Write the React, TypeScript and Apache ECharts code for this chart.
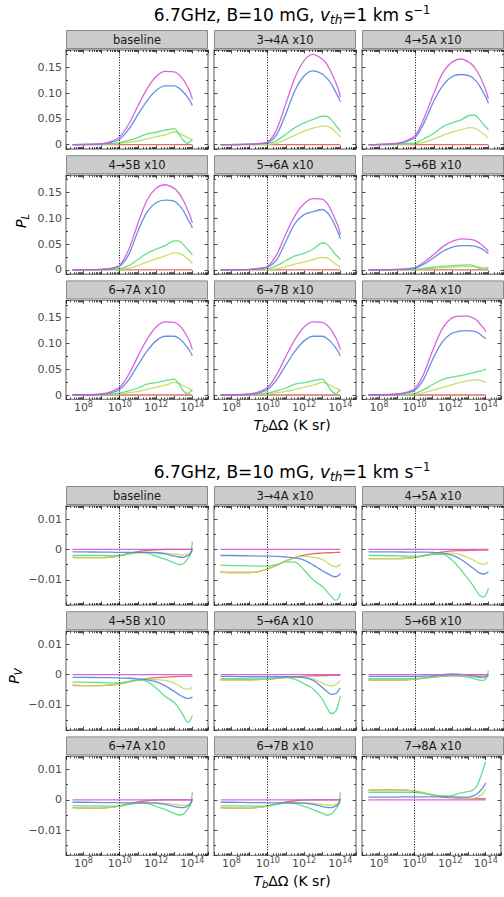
import React, { useEffect, useRef } from 'react';
import * as echarts from 'echarts';

// x grid: log10(T_b ΔΩ / K sr)
const LOG_T = [7.4, 8, 9, 9.5, 10, 10.5, 11, 11.5, 12, 12.5, 13, 13.25, 13.5, 13.75, 13.9, 14];

const PANEL_LABELS = ['baseline', '3→4A x10', '4→5A x10', '4→5B x10', '5→6A x10', '5→6B x10', '6→7A x10', '6→7B x10', '7→8A x10'];
const SERIES_NAMES = ['s1', 's2', 's3', 's4', 's5'];
const COLORS = ['#db5f57', '#c3db57', '#57db80', '#5784db', '#d357db'];
const X_LABEL_EXPONENTS = [8, 10, 12, 14];
const PL_TICKS = [0, 0.05, 0.1, 0.15];
const PV_TICKS = [-0.01, 0, 0.01];
const REF_LINE_EXP = 10;

const ZERO = [0, 0, 0, 0, 0, 0, 0, 0, 0, 0, 0, 0, 0, 0, 0, 0];

// ---------- P_L (each: red, yellow, green, blue, magenta) ----------
const PL_BASELINE = [
  ZERO,
  [0, 0.0001, 0.0005, 0.001, 0.002, 0.0045, 0.007, 0.011, 0.015, 0.019, 0.0245, 0.0225, 0.018, 0.0135, 0.011, 0.009],
  [0, 0.0001, 0.001, 0.002, 0.004, 0.008, 0.0136, 0.021, 0.024, 0.028, 0.031, 0.0215, 0.0084, 0.0025, 0.0067, 0.0095],
  [0, 0.0002, 0.0015, 0.004, 0.011, 0.03, 0.058, 0.085, 0.105, 0.114, 0.114, 0.11, 0.102, 0.091, 0.083, 0.076],
  [0, 0.0003, 0.002, 0.006, 0.015, 0.04, 0.075, 0.108, 0.132, 0.142, 0.141, 0.136, 0.126, 0.111, 0.099, 0.088],
];
const PL_3_4A = [
  ZERO,
  [0, 0, 0.0002, 0.0003, 0.0006, 0.003, 0.01, 0.018, 0.026, 0.032, 0.036, 0.036, 0.032, 0.024, 0.019, 0.014],
  [0, 0, 0.0005, 0.001, 0.002, 0.008, 0.02, 0.033, 0.042, 0.049, 0.055, 0.055, 0.048, 0.037, 0.031, 0.025],
  [0, 0.0001, 0.0008, 0.002, 0.004, 0.02, 0.06, 0.105, 0.133, 0.143, 0.137, 0.129, 0.118, 0.101, 0.091, 0.083],
  [0, 0.0002, 0.001, 0.002, 0.005, 0.03, 0.08, 0.13, 0.163, 0.175, 0.166, 0.156, 0.14, 0.12, 0.106, 0.092],
];
const PL_4_5A = [
  ZERO,
  [0, 0, 0.0003, 0.001, 0.002, 0.005, 0.011, 0.018, 0.024, 0.029, 0.033, 0.032, 0.027, 0.02, 0.016, 0.012],
  [0, 0.0001, 0.001, 0.002, 0.004, 0.012, 0.022, 0.035, 0.042, 0.048, 0.057, 0.057, 0.049, 0.038, 0.033, 0.028],
  [0, 0.0004, 0.002, 0.006, 0.015, 0.045, 0.085, 0.115, 0.132, 0.136, 0.133, 0.126, 0.115, 0.099, 0.089, 0.08],
  [0, 0.0005, 0.003, 0.008, 0.019, 0.055, 0.1, 0.14, 0.16, 0.166, 0.158, 0.149, 0.135, 0.115, 0.101, 0.089],
];
const PL_4_5B = [
  ZERO,
  [0, 0, 0.0002, 0.0003, 0.0006, 0.003, 0.008, 0.015, 0.021, 0.027, 0.033, 0.032, 0.028, 0.021, 0.016, 0.012],
  [0, 0, 0.0005, 0.001, 0.002, 0.008, 0.02, 0.032, 0.04, 0.047, 0.056, 0.056, 0.049, 0.039, 0.033, 0.029],
  [0, 0.0002, 0.001, 0.002, 0.007, 0.03, 0.075, 0.112, 0.13, 0.135, 0.133, 0.126, 0.115, 0.098, 0.089, 0.081],
  [0, 0.0002, 0.001, 0.003, 0.009, 0.04, 0.09, 0.135, 0.158, 0.165, 0.158, 0.149, 0.135, 0.115, 0.102, 0.091],
];
const PL_5_6A = [
  ZERO,
  [0, 0, 0.0002, 0.0003, 0.0005, 0.002, 0.006, 0.011, 0.015, 0.02, 0.024, 0.023, 0.018, 0.011, 0.008, 0.005],
  [0, 0, 0.0005, 0.001, 0.002, 0.008, 0.018, 0.027, 0.032, 0.04, 0.052, 0.05, 0.04, 0.029, 0.024, 0.02],
  [0, 0.0001, 0.001, 0.002, 0.005, 0.02, 0.055, 0.09, 0.107, 0.113, 0.117, 0.112, 0.1, 0.082, 0.07, 0.06],
  [0, 0.0002, 0.001, 0.003, 0.007, 0.03, 0.07, 0.105, 0.128, 0.138, 0.137, 0.13, 0.115, 0.095, 0.082, 0.068],
];
const PL_5_6B = [
  ZERO,
  [0, 0, 0.0001, 0.0002, 0.0005, 0.0015, 0.003, 0.004, 0.005, 0.006, 0.006, 0.0058, 0.005, 0.004, 0.0035, 0.003],
  [0, 0, 0.0002, 0.0005, 0.001, 0.003, 0.005, 0.007, 0.008, 0.009, 0.0095, 0.007, 0.003, 0.001, 0.003, 0.005],
  [0, 0.0001, 0.0008, 0.002, 0.004, 0.012, 0.024, 0.036, 0.044, 0.047, 0.047, 0.046, 0.043, 0.038, 0.034, 0.031],
  [0, 0.0002, 0.001, 0.002, 0.005, 0.016, 0.03, 0.045, 0.055, 0.06, 0.059, 0.057, 0.052, 0.045, 0.04, 0.036],
];
const PL_6_7A = PL_BASELINE;
const PL_6_7B = PL_BASELINE;
const PL_7_8A = [
  ZERO,
  [0, 0, 0.0003, 0.0005, 0.001, 0.004, 0.009, 0.014, 0.019, 0.024, 0.028, 0.029, 0.03, 0.028, 0.026, 0.024],
  [0, 0.0001, 0.001, 0.0015, 0.003, 0.01, 0.02, 0.029, 0.034, 0.037, 0.041, 0.043, 0.045, 0.047, 0.049, 0.051],
  [0, 0.0002, 0.0015, 0.004, 0.009, 0.03, 0.068, 0.1, 0.118, 0.124, 0.125, 0.124, 0.122, 0.116, 0.112, 0.109],
  [0, 0.0003, 0.002, 0.005, 0.012, 0.04, 0.085, 0.125, 0.147, 0.153, 0.153, 0.15, 0.145, 0.135, 0.129, 0.122],
];

// ---------- P_V ----------
const PV_BASELINE = [
  [-0.0026, -0.0027, -0.0027, -0.0025, -0.002, -0.0013, -0.0007, -0.0003, -0.0001, 0, 0, 0, 0, 0, 0, 0],
  [-0.0026, -0.0027, -0.0027, -0.0025, -0.0021, -0.0015, -0.0011, -0.001, -0.001, -0.0012, -0.0015, -0.0017, -0.0018, -0.0015, -0.001, -0.0005],
  [-0.002, -0.002, -0.002, -0.0021, -0.002, -0.0015, -0.001, -0.0012, -0.0022, -0.0032, -0.0044, -0.005, -0.0047, -0.003, -0.0015, 0.0025],
  [-0.0008, -0.0008, -0.0009, -0.0009, -0.001, -0.001, -0.001, -0.001, -0.0011, -0.0015, -0.0022, -0.0025, -0.0026, -0.002, -0.0014, 0.0003],
  ZERO,
];
const PV_3_4A = [
  [-0.0075, -0.0076, -0.0076, -0.0073, -0.0064, -0.0052, -0.0038, -0.0027, -0.0019, -0.0014, -0.0012, -0.0011, -0.0011, -0.001, -0.001, -0.001],
  [-0.0075, -0.0076, -0.0076, -0.0073, -0.0064, -0.0052, -0.0038, -0.0027, -0.0023, -0.0025, -0.0033, -0.0042, -0.0052, -0.0057, -0.0054, -0.0048],
  [-0.0052, -0.0053, -0.0054, -0.0055, -0.0055, -0.0049, -0.0041, -0.0042, -0.0068, -0.01, -0.0122, -0.0138, -0.0155, -0.0168, -0.016, -0.0144],
  [-0.002, -0.002, -0.0021, -0.0022, -0.0022, -0.0023, -0.0025, -0.0028, -0.0035, -0.0051, -0.007, -0.0078, -0.0086, -0.009, -0.0086, -0.0079],
  ZERO,
];
const PV_4_5A = [
  [-0.003, -0.003, -0.003, -0.0029, -0.0026, -0.002, -0.0013, -0.0008, -0.0005, -0.0004, -0.0003, -0.0003, -0.0002, -0.0002, -0.0002, -0.0002],
  [-0.003, -0.003, -0.003, -0.0029, -0.0026, -0.002, -0.0015, -0.0012, -0.0012, -0.0018, -0.003, -0.0038, -0.0046, -0.0049, -0.0046, -0.0041],
  [-0.002, -0.002, -0.0021, -0.0022, -0.0023, -0.002, -0.0016, -0.0016, -0.0035, -0.0068, -0.0106, -0.0128, -0.015, -0.0157, -0.0145, -0.0128],
  [-0.0008, -0.0008, -0.0008, -0.0009, -0.0009, -0.0009, -0.001, -0.0012, -0.0019, -0.0033, -0.0055, -0.0066, -0.0077, -0.0081, -0.0078, -0.0073],
  ZERO,
];
const PV_4_5B = [
  [-0.0035, -0.0036, -0.0036, -0.0034, -0.003, -0.0024, -0.0018, -0.0013, -0.001, -0.0008, -0.0007, -0.0006, -0.0006, -0.0005, -0.0005, -0.0005],
  [-0.0035, -0.0036, -0.0036, -0.0034, -0.003, -0.0024, -0.0018, -0.0015, -0.0016, -0.0019, -0.0028, -0.0036, -0.0045, -0.0048, -0.0046, -0.0042],
  [-0.0025, -0.0025, -0.0026, -0.0027, -0.0027, -0.0022, -0.0017, -0.0022, -0.0044, -0.0071, -0.0092, -0.011, -0.0135, -0.0157, -0.0148, -0.0135],
  [-0.0009, -0.0009, -0.001, -0.001, -0.0011, -0.0012, -0.0014, -0.0017, -0.0023, -0.0037, -0.0055, -0.0065, -0.0074, -0.0078, -0.0077, -0.0073],
  ZERO,
];
const PV_5_6A = [
  [-0.0017, -0.0017, -0.0017, -0.0016, -0.0015, -0.0012, -0.0009, -0.0007, -0.0005, -0.0004, -0.0003, -0.0003, -0.0002, -0.0002, -0.0002, -0.0002],
  [-0.0017, -0.0017, -0.0017, -0.0016, -0.0015, -0.0012, -0.001, -0.0009, -0.0009, -0.0014, -0.0028, -0.0034, -0.0037, -0.0033, -0.0026, -0.0019],
  [-0.0013, -0.0013, -0.0014, -0.0014, -0.0014, -0.0011, -0.0009, -0.0016, -0.003, -0.0047, -0.008, -0.0108, -0.0128, -0.012, -0.0095, -0.0071],
  [-0.0006, -0.0006, -0.0007, -0.0007, -0.0007, -0.0007, -0.0007, -0.0008, -0.001, -0.0019, -0.0042, -0.0055, -0.0065, -0.0062, -0.0052, -0.0044],
  ZERO,
];
const PV_5_6B = [
  [-0.0017, -0.0018, -0.0018, -0.0017, -0.0015, -0.0011, -0.0007, -0.0004, -0.0002, -0.0001, -0.0001, -0.0001, -0.0001, -0.0001, -0.0001, -0.0001],
  [-0.0017, -0.0018, -0.0018, -0.0017, -0.0015, -0.0011, -0.0008, -0.0005, -0.0004, -0.0004, -0.0006, -0.0008, -0.001, -0.0011, -0.0009, -0.0006],
  [-0.0013, -0.0013, -0.0013, -0.0013, -0.0013, -0.0011, -0.0008, -0.0005, -0.0004, -0.0006, -0.001, -0.0014, -0.0018, -0.0019, -0.001, 0.0013],
  [-0.0006, -0.0006, -0.0006, -0.0006, -0.0006, -0.0005, -0.0003, 0, 0.0002, 0.0001, -0.0003, -0.0005, -0.0007, -0.0008, -0.0006, -0.0002],
  ZERO,
];
const PV_6_7A = PV_BASELINE;
const PV_6_7B = PV_BASELINE;
const PV_7_8A = [
  [0.0032, 0.0033, 0.0033, 0.0032, 0.0029, 0.0023, 0.0016, 0.001, 0.0007, 0.0005, 0.0004, 0.0004, 0.0004, 0.0004, 0.0004, 0.0004],
  [0.0032, 0.0033, 0.0033, 0.0032, 0.0029, 0.0024, 0.0017, 0.0012, 0.0009, 0.0006, 0.0005, 0.0005, 0.0008, 0.0016, 0.0025, 0.0034],
  [0.0025, 0.0025, 0.0025, 0.0025, 0.0025, 0.0021, 0.0016, 0.0013, 0.0013, 0.0021, 0.0027, 0.0031, 0.0045, 0.0082, 0.0108, 0.0126],
  [0.0009, 0.0009, 0.0009, 0.001, 0.001, 0.001, 0.001, 0.001, 0.001, 0.0009, 0.0009, 0.0012, 0.0019, 0.0033, 0.0045, 0.0056],
  ZERO,
];

const PL_PANELS = [PL_BASELINE, PL_3_4A, PL_4_5A, PL_4_5B, PL_5_6A, PL_5_6B, PL_6_7A, PL_6_7B, PL_7_8A];
const PV_PANELS = [PV_BASELINE, PV_3_4A, PV_4_5A, PV_4_5B, PV_5_6A, PV_5_6B, PV_6_7A, PV_6_7B, PV_7_8A];

// ---------- layout ----------
const FONT = '"DejaVu Sans", sans-serif';
const COL_LEFT = [66, 214, 362];
const PLOT_W = 142;
const PLOT_H = 99;
const X_MIN_EXP = 7.04;
const X_MAX_EXP = 14.86;

const FIGS = [
  { panels: PL_PANELS, ymin: -0.0085, ymax: 0.1835, ticks: PL_TICKS, rowTops: [50, 175.2, 300.4], titleY: 15, xNameY: 425, yName: 'L', yNameX: 21, yNameY: 221 },
  { panels: PV_PANELS, ymin: -0.0183, ymax: 0.0143, ticks: PV_TICKS, rowTops: [506, 631.2, 756.4], titleY: 471.5, xNameY: 881, yName: 'V', yNameX: 14, yNameY: 676 },
];

function fmtY(ticks: number[]) {
  return (v: number) => {
    const t = ticks.find((k) => Math.abs(k - v) < 1e-9);
    if (t === undefined) return '';
    if (t === 0) return '0';
    return (t < 0 ? '\u2212' : '') + Math.abs(t).toFixed(2);
  };
}

function fmtX(v: number) {
  const e = Math.log10(v);
  const r = Math.round(e);
  if (Math.abs(e - r) > 1e-6 || X_LABEL_EXPONENTS.indexOf(r) < 0) return '';
  return `{b|10}{s|${r}}`;
}

function buildOption() {
  const grid: any[] = [];
  const xAxis: any[] = [];
  const yAxis: any[] = [];
  const series: any[] = [];
  const graphic: any[] = [];

  const tickStyle = { color: '#222', width: 0.8 };

  FIGS.forEach((fig, f) => {
    fig.panels.forEach((panel, p) => {
      const g = f * 9 + p;
      const row = Math.floor(p / 3);
      const col = p % 3;
      const left = COL_LEFT[col];
      const top = fig.rowTops[row];
      grid.push({ left, top, width: PLOT_W, height: PLOT_H, show: true, borderColor: '#8a8a8a', borderWidth: 1.4, backgroundColor: 'rgba(0,0,0,0)' });

      const xBase = {
        type: 'log', logBase: 10, gridIndex: g,
        min: Math.pow(10, X_MIN_EXP), max: Math.pow(10, X_MAX_EXP), splitNumber: 8,
        axisLine: { show: false, onZero: false }, splitLine: { show: false },
        axisTick: { show: true, inside: true, length: 3.5, lineStyle: tickStyle },
        minorTick: { show: true, splitNumber: 9, length: 2, lineStyle: tickStyle },
        minorSplitLine: { show: false },
      };
      xAxis.push({
        ...xBase, position: 'bottom',
        axisLabel: row === 2 ? {
          show: true, formatter: fmtX, margin: 1.5, color: '#4d4d4d',
          rich: {
            b: { fontSize: 11, fontFamily: FONT, color: '#4d4d4d', lineHeight: 14 },
            s: { fontSize: 8, fontFamily: FONT, color: '#4d4d4d', verticalAlign: 'top', lineHeight: 6 },
          },
        } : { show: false },
      });
      xAxis.push({ ...xBase, position: 'top', axisLabel: { show: false } });

      const yBase = {
        type: 'value', gridIndex: g, min: fig.ymin, max: fig.ymax, splitNumber: 4,
        axisLine: { show: false, onZero: false }, splitLine: { show: false },
        axisTick: { show: true, inside: true, length: 3.5, lineStyle: tickStyle },
        minorTick: { show: true, splitNumber: 2, length: 2, lineStyle: tickStyle },
        minorSplitLine: { show: false },
      };
      yAxis.push({
        ...yBase, position: 'left',
        axisLabel: col === 0 ? { show: true, formatter: fmtY(fig.ticks), margin: 4, color: '#4d4d4d', fontSize: 11, fontFamily: FONT } : { show: false },
      });
      yAxis.push({ ...yBase, position: 'right', axisLabel: { show: false } });

      panel.forEach((vals, s) => {
        series.push({
          type: 'line', name: SERIES_NAMES[s], xAxisIndex: 2 * g, yAxisIndex: 2 * g,
          data: LOG_T.map((e, i) => [Math.pow(10, e), vals[i]]),
          showSymbol: false, symbol: 'none', smooth: 0.3,
          lineStyle: { width: 1.3, color: COLORS[s], opacity: 0.9 },
          itemStyle: { color: COLORS[s] },
          z: 2 + s,
          markLine: s === 0 ? {
            silent: true, symbol: ['none', 'none'], label: { show: false },
            lineStyle: { type: [1, 1.6], color: '#000', width: 1, opacity: 1 },
            data: [{ xAxis: Math.pow(10, REF_LINE_EXP) }],
          } : undefined,
        });
      });

      graphic.push({
        type: 'rect', shape: { x: left + 0.5, y: top - 19.5, width: PLOT_W - 1, height: 18 },
        style: { fill: '#cccccc', stroke: '#8a8a8a', lineWidth: 1 },
      });
      graphic.push({
        type: 'text', x: left + PLOT_W / 2, y: top - 10.5,
        style: { text: PANEL_LABELS[p], fontFamily: FONT, fontSize: 11.5, fill: '#1a1a1a', align: 'center', verticalAlign: 'middle' },
      });
    });

    graphic.push({
      type: 'text', x: 292, y: fig.titleY,
      style: {
        text: '{n|6.7GHz, B=10 mG, }{i|v}{sub|th}{n|=1 km s}{sup|\u22121}',
        align: 'center', verticalAlign: 'middle',
        rich: {
          n: { fontSize: 17, fontFamily: FONT, fill: '#000', lineHeight: 22 },
          i: { fontSize: 17, fontFamily: FONT, fontStyle: 'italic', fill: '#000', lineHeight: 22 },
          sub: { fontSize: 12, fontFamily: FONT, fontStyle: 'italic', fill: '#000', verticalAlign: 'bottom', lineHeight: 10 },
          sup: { fontSize: 11.5, fontFamily: FONT, fill: '#000', verticalAlign: 'top', lineHeight: 16 },
        },
      },
    });
    graphic.push({
      type: 'text', x: 292, y: fig.xNameY,
      style: {
        text: '{i|T}{sub|b}{n|\u0394\u03a9 (K sr)}',
        align: 'center', verticalAlign: 'middle',
        rich: {
          n: { fontSize: 14, fontFamily: FONT, fill: '#000', lineHeight: 16 },
          i: { fontSize: 14, fontFamily: FONT, fontStyle: 'italic', fill: '#000', lineHeight: 16 },
          sub: { fontSize: 10, fontFamily: FONT, fontStyle: 'italic', fill: '#000', verticalAlign: 'bottom', lineHeight: 7 },
        },
      },
    });
    graphic.push({
      type: 'text', x: fig.yNameX, y: fig.yNameY, rotation: Math.PI / 2,
      style: {
        text: `{i|P}{sub|${fig.yName}}`,
        align: 'center', verticalAlign: 'middle',
        rich: {
          i: { fontSize: 14, fontFamily: FONT, fontStyle: 'italic', fill: '#000', lineHeight: 18 },
          sub: { fontSize: 10, fontFamily: FONT, fontStyle: 'italic', fill: '#000', verticalAlign: 'bottom', lineHeight: 8 },
        },
      },
    });
  });

  return { animation: false, backgroundColor: '#ffffff', grid, xAxis, yAxis, series, graphic };
}

export default function App() {
  const ref = useRef<HTMLDivElement>(null);
  useEffect(() => {
    if (!ref.current) return;
    const chart = echarts.init(ref.current, null, { renderer: 'svg' });
    chart.setOption(buildOption() as any);
    return () => chart.dispose();
  }, []);
  return <div ref={ref} style={{ position: 'fixed', left: 0, top: 0, width: 504, height: 897 }} />;
}
